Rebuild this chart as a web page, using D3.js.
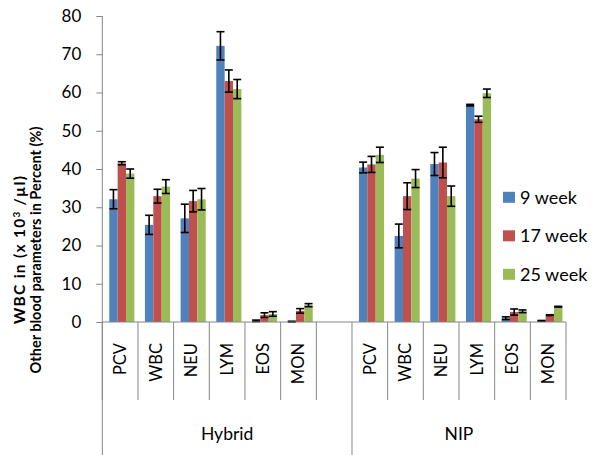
<!DOCTYPE html>
<html>
<head>
<meta charset="utf-8">
<script src="https://cdn.jsdelivr.net/npm/d3@7"></script>
<style>
  html, body { margin: 0; padding: 0; background: #fff; }
  svg { display: block; font-family: Lato, "Open Sans", sans-serif; }
</style>
</head>
<body>
<svg id="chart" width="595" height="455"></svg>
<script>
// Breed groups and blood parameters on the category axis
const groups = ["Hybrid", "NIP"];
const params = ["PCV", "WBC", "NEU", "LYM", "EOS", "MON"];
const seriesNames = ["9 week", "17 week", "25 week"];
const seriesColors = ["#4F81BD", "#C0504D", "#9BBB59"];
const yTicks = [0, 10, 20, 30, 40, 50, 60, 70, 80];

// Means per age (order follows params)
const hybrid9 = [32.1, 25.4, 27.1, 72.2, 0.3, 0.1];
const hybrid17 = [41.5, 32.9, 31.6, 63.0, 1.8, 2.9];
const hybrid25 = [38.8, 35.4, 32.1, 60.9, 2.1, 4.4];
const nip9 = [40.4, 22.5, 41.3, 56.7, 1.0, 0.3];
const nip17 = [41.2, 32.9, 41.7, 53.0, 2.6, 1.8];
const nip25 = [43.7, 37.5, 32.9, 59.8, 2.8, 4.0];

// Standard errors
const hybrid9Err = [2.5, 2.5, 3.7, 3.7, 0.2, 0.1];
const hybrid17Err = [0.4, 1.8, 2.8, 2.9, 0.6, 0.6];
const hybrid25Err = [1.2, 1.8, 2.8, 2.5, 0.6, 0.4];
const nip9Err = [1.4, 3.1, 3.0, 0.2, 0.35, 0.1];
const nip17Err = [2.1, 3.5, 4.0, 0.8, 0.8, 0.1];
const nip25Err = [2.0, 2.35, 2.65, 1.1, 0.35, 0.1];

const means = { Hybrid: [hybrid9, hybrid17, hybrid25], NIP: [nip9, nip17, nip25] };
const errs = { Hybrid: [hybrid9Err, hybrid17Err, hybrid25Err], NIP: [nip9Err, nip17Err, nip25Err] };

// Slot keys: each group's parameters, with an empty slot after Hybrid
const slots = [];
groups.forEach((g, gi) => {
  params.forEach(p => slots.push({ key: g + "|" + p, group: g, param: p }));
  if (gi < groups.length - 1) slots.push({ key: g + "|gap", group: g, param: null });
});

const axisColor = "#868686";
const plotLeft = 102.3, plotRight = 566, plotTop = 16, plotBase = 322;

const svg = d3.select("#chart");

const x = d3.scaleBand().domain(slots.map(s => s.key)).range([plotLeft, plotRight]).padding(0);
const xs = d3.scaleBand().domain(seriesNames).range([0, x.bandwidth()])
  .paddingInner(0).paddingOuter(0.63).align(0.66);
const y = d3.scaleLinear().domain([0, 80]).range([plotBase, plotTop]);

// Y axis: line, ticks and labels
const yAxis = svg.append("g").attr("transform", `translate(${plotLeft},0)`)
  .call(d3.axisLeft(y).tickValues(yTicks).tickSize(6).tickPadding(15).tickSizeOuter(0));
yAxis.select(".domain").remove();
yAxis.selectAll(".tick line").attr("stroke", axisColor);
yAxis.selectAll(".tick text").attr("font-size", 17).attr("fill", "#000")
  .attr("font-family", "Lato, sans-serif");
svg.append("line").attr("x1", plotLeft).attr("x2", plotLeft).attr("y1", plotTop).attr("y2", 455)
  .attr("stroke", axisColor);

// Bars
const bars = [];
slots.filter(s => s.param).forEach(s => {
  const pi = params.indexOf(s.param);
  seriesNames.forEach((n, si) => {
    bars.push({ slot: s.key, series: n, si, v: means[s.group][si][pi], e: errs[s.group][si][pi] });
  });
});

svg.append("g").selectAll("rect").data(bars).join("rect")
  .attr("x", d => x(d.slot) + xs(d.series))
  .attr("width", xs.bandwidth())
  .attr("y", d => y(d.v))
  .attr("height", d => y(0) - y(d.v))
  .attr("fill", d => seriesColors[d.si]);

// Error bars
const capHalf = 4;
const eb = svg.append("g").attr("stroke", "#000").attr("stroke-width", 1.6);
bars.forEach(d => {
  const cx = x(d.slot) + xs(d.series) + xs.bandwidth() / 2;
  const y1 = y(d.v + d.e), y2 = y(Math.max(0, d.v - d.e));
  eb.append("line").attr("x1", cx).attr("x2", cx).attr("y1", y1).attr("y2", y2);
  eb.append("line").attr("x1", cx - capHalf).attr("x2", cx + capHalf).attr("y1", y1).attr("y2", y1);
  eb.append("line").attr("x1", cx - capHalf).attr("x2", cx + capHalf).attr("y1", y2).attr("y2", y2);
});

// Category axis: baseline and slot dividers
const cat = svg.append("g").attr("stroke", axisColor);
cat.append("line").attr("x1", plotLeft).attr("x2", plotRight).attr("y1", plotBase).attr("y2", plotBase);
const bounds = slots.map(s => x(s.key)).concat([plotRight]);
bounds.forEach(bx => {
  cat.append("line").attr("x1", bx).attr("x2", bx).attr("y1", plotBase).attr("y2", 400);
});
// Group divider reaches the bottom
const nipStart = x("NIP|PCV");
cat.append("line").attr("x1", nipStart).attr("x2", nipStart).attr("y1", 400).attr("y2", 455);

// Parameter labels, rotated
svg.append("g").selectAll("text").data(slots.filter(s => s.param)).join("text")
  .attr("transform", d => `translate(${x(d.key) + x.bandwidth() / 2},343) rotate(-90)`)
  .attr("text-anchor", "end")
  .attr("dy", "0.36em")
  .attr("font-size", 16.5)
  .text(d => d.param);

// Group labels
const groupSpan = { Hybrid: [plotLeft, nipStart], NIP: [nipStart, plotRight] };
svg.append("g").selectAll("text").data(groups).join("text")
  .attr("x", g => (groupSpan[g][0] + groupSpan[g][1]) / 2)
  .attr("y", 440)
  .attr("text-anchor", "middle")
  .attr("font-size", 17.5)
  .text(g => g);

// Y axis title, two lines
const title = svg.append("g").attr("transform", "translate(0,250) rotate(-90)")
  .attr("font-weight", "bold").attr("text-anchor", "middle");
const t1 = title.append("text").attr("x", 0).attr("y", 25).attr("font-size", 15.5)
  .attr("textLength", 148).attr("lengthAdjust", "spacing");
t1.append("tspan").text("WBC in (x 10");
t1.append("tspan").attr("dy", -5).attr("font-size", 10).text("3");
t1.append("tspan").attr("dy", 5).text(" /µl)");
title.append("text").attr("x", 0).attr("y", 40.5).attr("font-size", 14.5)
  .text("Other blood parameters in Percent (%)");

// Legend
const legend = svg.append("g").selectAll("g").data(seriesNames).join("g")
  .attr("transform", (d, i) => `translate(503,${197.3 + i * 38.5})`);
legend.append("rect").attr("x", 0).attr("y", -5.5).attr("width", 12).attr("height", 11)
  .attr("fill", (d, i) => seriesColors[i]);
legend.append("text").attr("x", 17).attr("dy", "0.36em").attr("font-size", 18).text(d => d);
</script>
</body>
</html>
